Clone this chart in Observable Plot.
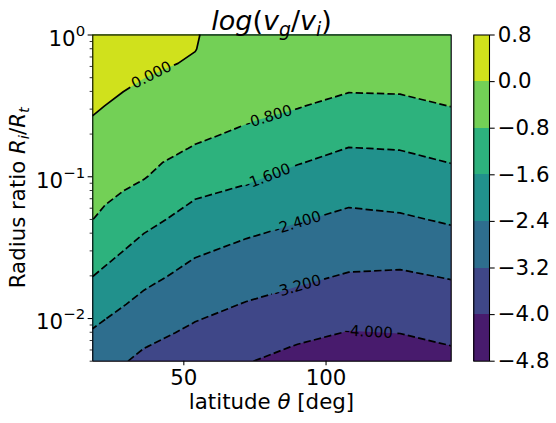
<!DOCTYPE html>
<html><head><meta charset="utf-8">
<script src="https://cdn.jsdelivr.net/npm/d3@7"></script>
<script src="https://cdn.jsdelivr.net/npm/@observablehq/plot@0.6"></script>
<style>
body{margin:0;background:#fff;}
#wrap{position:relative;width:556px;height:423px;font-family:"DejaVu Sans";color:#000;overflow:hidden;}
#main{position:absolute;left:0;top:0;}
#cbar{position:absolute;left:452px;top:0;}
.txt{position:absolute;white-space:nowrap;line-height:1;text-align:center;}
.sub{font-size:70%;position:relative;}
#title{left:71.5px;width:400px;top:7px;font-size:27px;}
#title .sub{top:6px;}
#xlabel{left:71.5px;width:400px;top:391px;font-size:21.33px;}
#ylabel{left:-131.9px;width:300px;top:186.9px;font-size:21.33px;transform:rotate(-90deg);transform-origin:50% 50%;}
#ylabel .sub{top:4px;}
</style></head>
<body>
<div id="wrap">
  <div id="main"></div>
  <div id="cbar"></div>
  <div id="title" class="txt"><i>log</i>(<i>v</i><span class="sub"><i>g</i></span>/<i>v</i><span class="sub"><i>i</i></span>)</div>
  <div id="xlabel" class="txt">latitude <i>θ</i> [deg]</div>
  <div id="ylabel" class="txt">Radius ratio <i>R</i><span class="sub"><i>i</i></span>/<i>R</i><span class="sub"><i>t</i></span></div>
</div>
<script>
// ---- data ----
const latitude = [18, 36, 54, 72, 90, 108, 126, 144];
// log10 of radius ratio for each grid row (top to bottom)
const logRadius = [0, -0.1, -0.2, -0.3, -0.4, -0.5, -0.6, -0.7, -0.8, -0.9, -1.0, -1.1,
                   -1.2, -1.3, -1.4, -1.5, -1.6, -1.7, -1.8, -1.9, -2.0, -2.1, -2.2, -2.3];
// log(v_g/v_i) down each latitude column
const z18  = [0.500, 0.413, 0.325, 0.238, 0.151, 0.064, -0.030, -0.139, -0.248, -0.357, -0.467, -0.576, -0.685, -0.795, -0.991, -1.192, -1.393, -1.594, -1.815, -2.037, -2.258, -2.461, -2.631, -2.800];
const z36  = [0.300, 0.202, 0.105, 0.007, -0.103, -0.214, -0.324, -0.435, -0.546, -0.656, -0.767, -0.951, -1.168, -1.384, -1.601, -1.800, -2.000, -2.200, -2.400, -2.595, -2.790, -2.985, -3.180, -3.380];
const z54  = [0.030, 0.011, -0.053, -0.182, -0.310, -0.439, -0.568, -0.697, -0.842, -1.055, -1.267, -1.479, -1.684, -1.878, -2.072, -2.266, -2.455, -2.631, -2.807, -2.983, -3.159, -3.336, -3.513, -3.690];
const z72  = [-0.300, -0.377, -0.454, -0.530, -0.607, -0.684, -0.761, -0.897, -1.094, -1.292, -1.489, -1.694, -1.906, -2.119, -2.332, -2.521, -2.700, -2.879, -3.057, -3.236, -3.417, -3.598, -3.779, -3.960];
const z90  = [-0.250, -0.353, -0.456, -0.560, -0.663, -0.766, -0.940, -1.150, -1.359, -1.569, -1.766, -1.962, -2.157, -2.353, -2.535, -2.712, -2.889, -3.066, -3.247, -3.445, -3.642, -3.840, -4.037, -4.232];
const z108 = [-0.300, -0.422, -0.543, -0.665, -0.787, -0.987, -1.197, -1.407, -1.615, -1.804, -1.992, -2.181, -2.370, -2.546, -2.721, -2.895, -3.069, -3.249, -3.443, -3.637, -3.831, -4.026, -4.223, -4.420];
const z126 = [-0.300, -0.417, -0.534, -0.651, -0.768, -0.952, -1.160, -1.369, -1.577, -1.759, -1.938, -2.117, -2.296, -2.486, -2.689, -2.893, -3.096, -3.286, -3.462, -3.638, -3.814, -3.989, -4.179, -4.370];
const z144 = [-0.250, -0.358, -0.466, -0.573, -0.681, -0.789, -0.982, -1.185, -1.387, -1.590, -1.773, -1.955, -2.136, -2.318, -2.517, -2.729, -2.941, -3.153, -3.333, -3.502, -3.672, -3.842, -4.013, -4.200];

const levels = [-4.8, -4.0, -3.2, -2.4, -1.6, -0.8, 0.0, 0.8];
const lineLevels = [-4.0, -3.2, -2.4, -1.6, -0.8, 0.0];
const labelLatitude = [115, 90, 90, 79.4, 79.8, 38.6];   // where each line label sits
const xTicks = [50, 100];
const yTicks = [1, 0.1, 0.01];
const yMinorTicks = [0.005, 0.006, 0.007, 0.008, 0.009, 0.02, 0.03, 0.04, 0.05, 0.06, 0.07, 0.08, 0.09,
                     0.2, 0.3, 0.4, 0.5, 0.6, 0.7, 0.8, 0.9];
const xDomain = [18, 144];
const yDomain = [0.005, 1];

// ---- build grid (rows are evenly spaced in log10 R, so the y scale runs in log10 units) ----
const columns = [z18, z36, z54, z72, z90, z108, z126, z144];
const nx = latitude.length, ny = logRadius.length;
const dLat = latitude[1] - latitude[0];
const dLog = logRadius[0] - logRadius[1];
const grid = [];
for (let r = 0; r < ny; r++) for (let c = 0; c < nx; c++) grid.push(columns[c][r]);
const gx1 = latitude[0] - dLat / 2, gx2 = latitude[nx - 1] + dLat / 2;
const gy1 = logRadius[0] + dLog / 2, gy2 = logRadius[ny - 1] - dLog / 2;
const yLogDomain = yDomain.map(Math.log10);

const bandColors = d3.range(levels.length - 1).map(i => d3.interpolateViridis((i + 0.5) / (levels.length - 1)));
const colorScale = {type: "threshold", domain: levels.slice(1, -1), range: bandColors};

// layout
const FR = {left: 92.3, right: 450.7, top: 34.5, bottom: 360.7};
const MAINW = 452, H = 423;
const sx = d3.scaleLinear(xDomain, [FR.left, FR.right]);
const sy = d3.scaleLinear(yLogDomain, [FR.bottom, FR.top]);

// ---- contour label placement from the grid's own contours ----
function crossings(level, lat) {
  const [mp] = d3.contours().size([nx, ny]).thresholds([level])(grid);
  const gx = (lat - gx1) / dLat;
  const out = [];
  for (const poly of mp.coordinates) for (const ring of poly) for (let i = 1; i < ring.length; i++) {
    const a = ring[i - 1], b = ring[i];
    if (a[0] === b[0]) continue;
    if ((a[0] - gx) * (b[0] - gx) > 0) continue;
    if ((a[1] <= 0 && b[1] <= 0) || (a[1] >= ny && b[1] >= ny)) continue;
    const t = (gx - a[0]) / (b[0] - a[0]);
    const gy = a[1] + t * (b[1] - a[1]);
    out.push(gy1 - gy * dLog);
  }
  return out;
}
const labels = lineLevels.map((lv, i) => {
  const lat = labelLatitude[i], half = 7;
  const c = crossings(lv, lat)[0];
  const near = arr => arr.reduce((p, v) => Math.abs(v - c) < Math.abs(p - c) ? v : p, arr[0]);
  const la = near(crossings(lv, lat - half)), lb = near(crossings(lv, lat + half));
  const ang = Math.atan2(sy(lb) - sy(la), sx(lat + half) - sx(lat - half)) * 180 / Math.PI;
  return {lat, r: c, text: lv.toFixed(3), angle: ang};
});

const gridOpts = {width: nx, height: ny, x1: gx1, x2: gx2, y1: gy1, y2: gy2, clip: true};

const main = Plot.plot({
  width: MAINW, height: H,
  marginLeft: FR.left, marginRight: MAINW - FR.right, marginTop: FR.top, marginBottom: H - FR.bottom,
  style: {fontFamily: "DejaVu Sans", background: "white", color: "black"},
  x: {domain: xDomain},
  y: {domain: yLogDomain},
  color: colorScale,
  marks: [
    Plot.frame({fill: bandColors[0]}),
    Plot.contour(grid, {...gridOpts, fill: Plot.identity, stroke: "none", thresholds: levels.slice(0, -1)}),
    Plot.contour(grid, {...gridOpts, value: Plot.identity, thresholds: lineLevels.filter(v => v < 0), fill: "none", stroke: "black", strokeWidth: 1.7, strokeDasharray: "7.4,3.2", className: "clines"}),
    Plot.contour(grid, {...gridOpts, value: Plot.identity, thresholds: lineLevels.filter(v => v >= 0), fill: "none", stroke: "black", strokeWidth: 1.7, className: "clines"}),
    Plot.text(labels, {x: "lat", y: "r", text: "text", rotate: "angle", fontSize: 15, fill: "black", fontFamily: "DejaVu Sans", className: "clabels"}),
    Plot.frame({stroke: "black", strokeWidth: 1.07}),
    Plot.axisX({ticks: xTicks, tickSize: 4.67, tickPadding: 3.5, fontSize: 21.33, label: null, strokeWidth: 1.07}),
    Plot.axisY({ticks: yTicks.map(Math.log10), tickSize: 4.67, tickPadding: 3, fontSize: 21.33, label: null, strokeWidth: 1.07,
                tickFormat: d => "10^" + Math.round(d)}),
    Plot.axisY({ticks: yMinorTicks.map(Math.log10), tickSize: 2.67, tickFormat: () => "", label: null, strokeWidth: 0.8})
  ]
});
document.getElementById("main").appendChild(main);

// superscript exponents on y tick labels
main.querySelectorAll("text").forEach(t => {
  const s = t.textContent;
  if (!s.includes("^")) return;
  const [base, ex] = s.split("^");
  while (t.firstChild) t.removeChild(t.firstChild);
  const ns = "http://www.w3.org/2000/svg";
  const a = document.createElementNS(ns, "tspan");
  a.setAttribute("dy", "4"); a.textContent = base;
  const b = document.createElementNS(ns, "tspan");
  b.setAttribute("dy", "-10"); b.setAttribute("font-size", "14.9");
  b.textContent = ex.replace("-", "\u2212");
  t.appendChild(a); t.appendChild(b);
});

// cut the contour lines under their labels (like inline clabel)
(function () {
  const ns = "http://www.w3.org/2000/svg";
  const lg = main.querySelector("g.clabels");
  const lines = main.querySelectorAll("g.clines");
  if (!lg || !lines.length) return;
  const defs = document.createElementNS(ns, "defs");
  const mask = document.createElementNS(ns, "mask");
  mask.setAttribute("id", "clabelgap");
  mask.setAttribute("maskUnits", "userSpaceOnUse");
  mask.setAttribute("x", 0); mask.setAttribute("y", 0);
  mask.setAttribute("width", MAINW); mask.setAttribute("height", H);
  const bg = document.createElementNS(ns, "rect");
  bg.setAttribute("x", 0); bg.setAttribute("y", 0); bg.setAttribute("width", MAINW); bg.setAttribute("height", H);
  bg.setAttribute("fill", "white");
  mask.appendChild(bg);
  const gT = lg.getAttribute("transform") || "";
  lg.querySelectorAll("text").forEach(t => {
    const bb = t.getBBox();
    const r = document.createElementNS(ns, "rect");
    r.setAttribute("x", bb.x - 3); r.setAttribute("y", bb.y);
    r.setAttribute("width", bb.width + 6); r.setAttribute("height", bb.height);
    r.setAttribute("fill", "black");
    r.setAttribute("transform", gT + " " + (t.getAttribute("transform") || ""));
    mask.appendChild(r);
  });
  defs.appendChild(mask);
  main.insertBefore(defs, main.firstChild);
  lines.forEach(g => g.setAttribute("mask", "url(#clabelgap)"));
})();

// ---- colour bar ----
const bands = d3.range(levels.length - 1).map(i => ({lo: levels[i], hi: levels[i + 1]}));
const CBW = 104, cbLeft = 473.3 - 452, cbRight = 489 - 452;
const cbar = Plot.plot({
  width: CBW, height: H,
  marginLeft: cbLeft, marginRight: CBW - cbRight, marginTop: FR.top, marginBottom: H - FR.bottom,
  style: {fontFamily: "DejaVu Sans", background: "white", color: "black"},
  x: {domain: [0, 1], axis: null},
  y: {domain: [levels[0], levels[levels.length - 1]], axis: null},
  color: colorScale,
  marks: [
    Plot.rect(bands, {x1: 0, x2: 1, y1: "lo", y2: "hi", fill: "lo", shapeRendering: "crispEdges"}),
    Plot.frame({stroke: "black", strokeWidth: 1.07}),
    Plot.axisY({anchor: "right", ticks: levels, tickSize: 4.67, tickPadding: 3.5, fontSize: 21.33, label: null,
                strokeWidth: 1.07, tickFormat: d3.format(".1f")})
  ]
});
document.getElementById("cbar").appendChild(cbar);
</script>
</body></html>
